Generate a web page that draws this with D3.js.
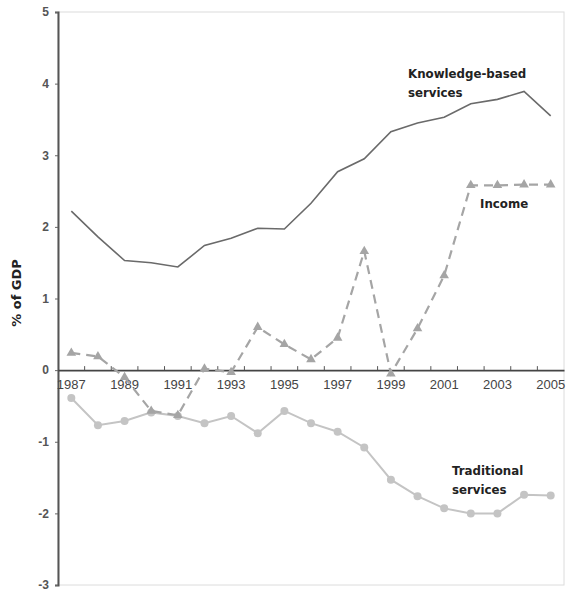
<!DOCTYPE html>
<html>
<head>
<meta charset="utf-8">
<script src="https://cdn.jsdelivr.net/npm/d3@7"></script>
<style>
  body { margin: 0; background: #fff; }
  text { font-family: "Liberation Sans", Arial, sans-serif; }
</style>
</head>
<body>
<script>
const years = d3.range(1987, 2006);
const knowledge = [2.22, 1.86, 1.53, 1.50, 1.44, 1.74, 1.84, 1.98, 1.97, 2.33,
                   2.77, 2.95, 3.33, 3.45, 3.53, 3.72, 3.78, 3.89, 3.55];
const income = [0.24, 0.19, -0.1, -0.57, -0.63, 0.02, -0.03, 0.6, 0.36, 0.15,
                0.45, 1.66, -0.05, 0.58, 1.32, 2.58, 2.58, 2.59, 2.59];
const traditional = [-0.39, -0.77, -0.71, -0.59, -0.64, -0.74, -0.64, -0.88, -0.57, -0.74,
                     -0.86, -1.08, -1.53, -1.76, -1.93, -2.0, -2.0, -1.74, -1.75];
const yTicks = [-3, -2, -1, 0, 1, 2, 3, 4, 5];

const w = 567, h = 597;
const pLeft = 58, pRight = 564, pTop = 12, pBottom = 585;

const svg = d3.select("body").append("svg")
  .attr("width", w)
  .attr("height", h);

const x = d3.scaleBand()
  .domain(years)
  .range([pLeft, pRight])
  .padding(0);

const y = d3.scaleLinear()
  .domain([-3, 5])
  .range([pBottom, pTop]);

const cx = d => x(d) + x.bandwidth() / 2;

// light frame
svg.append("rect")
  .attr("x", pLeft)
  .attr("y", pTop)
  .attr("width", pRight - pLeft)
  .attr("height", pBottom - pTop)
  .attr("fill", "none")
  .attr("stroke", "#dcdcdc")
  .attr("stroke-width", 1);

// y axis
const yAxis = svg.append("g")
  .attr("transform", "translate(" + pLeft + ",0)")
  .call(d3.axisLeft(y).tickValues(yTicks).tickSize(3).tickFormat(d3.format("d")));
yAxis.select(".domain").attr("stroke", "#555").attr("stroke-width", 2);
yAxis.selectAll(".tick line").attr("stroke", "#666");
yAxis.selectAll(".tick text")
  .attr("font-size", 12)
  .attr("font-weight", "bold")
  .attr("fill", "#555")
  .attr("x", -9)
  .text(d => d < 0 ? "-" + Math.abs(d) : d);

// x axis at zero
const xAxis = svg.append("g")
  .attr("transform", "translate(0," + y(0) + ")")
  .call(d3.axisBottom(x).tickSize(0).tickFormat(d => d % 2 === 1 ? d : ""));
xAxis.select(".domain").attr("stroke", "#444").attr("stroke-width", 1.6);
xAxis.selectAll(".tick text")
  .attr("font-size", 13)
  .attr("fill", "#444")
  .attr("dy", "1.25em");

// category boundary ticks
svg.append("g")
  .selectAll("line")
  .data(years.slice(1))
  .enter()
  .append("line")
  .attr("x1", d => x(d))
  .attr("x2", d => x(d))
  .attr("y1", y(0))
  .attr("y2", y(0) - 4)
  .attr("stroke", "#555")
  .attr("stroke-width", 1);

const line = d3.line()
  .x((d, i) => cx(years[i]))
  .y(d => y(d));

// traditional services
svg.append("path")
  .datum(traditional)
  .attr("d", line)
  .attr("fill", "none")
  .attr("stroke", "#c4c4c4")
  .attr("stroke-width", 2);
svg.append("g")
  .selectAll("circle")
  .data(traditional)
  .enter()
  .append("circle")
  .attr("cx", (d, i) => cx(years[i]))
  .attr("cy", d => y(d))
  .attr("r", 4)
  .attr("fill", "#c4c4c4");

// income
svg.append("path")
  .datum(income)
  .attr("d", line)
  .attr("fill", "none")
  .attr("stroke", "#a5a5a5")
  .attr("stroke-width", 2.2)
  .attr("stroke-dasharray", "9,6");
svg.append("g")
  .selectAll("path")
  .data(income)
  .enter()
  .append("path")
  .attr("d", d3.symbol().type(d3.symbolTriangle).size(40))
  .attr("transform", (d, i) => "translate(" + cx(years[i]) + "," + y(d) + ")")
  .attr("fill", "#a5a5a5");

// knowledge-based services
svg.append("path")
  .datum(knowledge)
  .attr("d", line)
  .attr("fill", "none")
  .attr("stroke", "#6a6a6a")
  .attr("stroke-width", 1.6);

// series labels
const labels = [
  { lines: ["Knowledge-based", "services"], x: 408, y: 78 },
  { lines: ["Income"], x: 480, y: 208 },
  { lines: ["Traditional", "services"], x: 452, y: 475 }
];
labels.forEach(l => {
  const t = svg.append("text")
    .attr("x", l.x)
    .attr("y", l.y)
    .style("font-family", "'DejaVu Sans', sans-serif")
    .style("font-size", "11.8px")
    .style("font-weight", "bold")
    .attr("fill", "#222");
  l.lines.forEach((s, i) => {
    t.append("tspan")
      .attr("x", l.x)
      .attr("dy", i === 0 ? 0 : 19)
      .text(s);
  });
});

// y axis title
svg.append("text")
  .attr("transform", "translate(21,293) rotate(-90)")
  .attr("text-anchor", "middle")
  .style("font-family", "'DejaVu Sans', sans-serif")
  .style("font-size", "13px")
  .style("font-weight", "bold")
  .attr("fill", "#222")
  .text("% of GDP");
</script>
</body>
</html>
